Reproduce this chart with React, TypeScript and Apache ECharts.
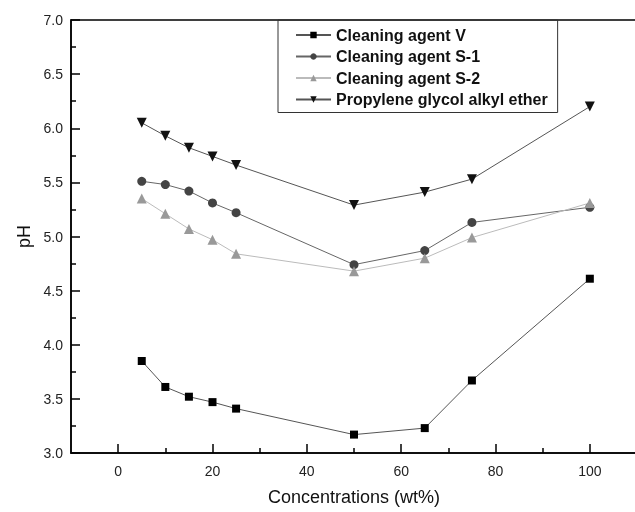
import React, { useEffect, useRef } from "react";
import * as echarts from "echarts";

const concentrations = [5, 10, 15, 20, 25, 50, 65, 75, 100];
const agentV = [3.85, 3.61, 3.52, 3.47, 3.41, 3.17, 3.23, 3.67, 4.61];
const agentS1 = [5.51, 5.48, 5.42, 5.31, 5.22, 4.74, 4.87, 5.13, 5.27];
const agentS2 = [5.35, 5.21, 5.07, 4.97, 4.84, 4.68, 4.8, 4.99, 5.31];
const pgae = [6.05, 5.93, 5.82, 5.74, 5.66, 5.29, 5.41, 5.53, 6.2];
const xMajorTicks = [0, 20, 40, 60, 80, 100];

const FONT = "Liberation Sans, Arial, sans-serif";

function pairs(vals: number[]) {
  return concentrations.map((c, i) => [c, vals[i]]);
}

export default function App() {
  const ref = useRef<HTMLDivElement>(null);
  useEffect(() => {
    if (!ref.current) return;
    const chart = echarts.init(ref.current, undefined, { renderer: "svg" });
    const mk = (
      name: string,
      vals: number[],
      symbol: string,
      size: number,
      color: string,
      lineColor: string,
      rotate = 0
    ) => ({
      name,
      type: "line",
      data: pairs(vals),
      symbol,
      symbolSize: size,
      symbolRotate: rotate,
      showAllSymbol: true,
      itemStyle: { color, borderWidth: 0 },
      lineStyle: { color: lineColor, width: 1 },
      emphasis: { disabled: true },
    });
    chart.setOption({
      animation: false,
      grid: {
        left: 71,
        top: 20,
        width: 566,
        height: 433,
        show: true,
        borderColor: "#000",
        borderWidth: 1.5,
        outerBoundsMode: "none",
        containLabel: false,
      },
      legend: {
        orient: "vertical",
        left: 278,
        top: 20,
        itemWidth: 35,
        itemHeight: 8,
        itemGap: 5.5,
        padding: [7, 10, 5, 17],
        borderColor: "#333",
        borderWidth: 1,
        textStyle: { fontSize: 16, fontWeight: "bold", color: "#111", fontFamily: FONT, lineHeight: 16 },
      },
      xAxis: [
        {
          type: "value",
          min: -10,
          max: 110,
          name: "Concentrations (wt%)",
          nameLocation: "middle",
          nameGap: 35,
          nameTextStyle: { fontSize: 18, color: "#111", fontFamily: FONT },
          axisLine: { show: true, onZero: false, lineStyle: { color: "#000", width: 1.5 } },
          axisTick: { show: true, inside: true, length: 9, customValues: xMajorTicks, lineStyle: { color: "#000", width: 1.5 } },
          minorTick: { show: true, splitNumber: 2, length: 5, lineStyle: { color: "#000", width: 1.5 } },
          axisLabel: { customValues: xMajorTicks, margin: 11, fontSize: 14, color: "#222", fontFamily: FONT },
          splitLine: { show: false },
        },
      ],
      yAxis: {
        type: "value",
        min: 3,
        max: 7,
        interval: 0.5,
        name: "pH",
        nameLocation: "middle",
        nameRotate: 90,
        nameGap: 34,
        nameTextStyle: { fontSize: 18, color: "#111", fontFamily: FONT },
        axisLine: { show: true, onZero: false, lineStyle: { color: "#000", width: 1.5 } },
        axisTick: { show: true, inside: true, length: 9, lineStyle: { color: "#000", width: 1.5 } },
        minorTick: { show: true, splitNumber: 2, length: 5, lineStyle: { color: "#000", width: 1.5 } },
        axisLabel: { margin: 8, fontSize: 14, color: "#222", fontFamily: FONT, formatter: (v: number) => v.toFixed(1) },
        splitLine: { show: false },
      },
      series: [
        mk("Cleaning agent V", agentV, "rect", 8, "#000", "#555"),
        mk("Cleaning agent S-1", agentS1, "circle", 9, "#444", "#666"),
        mk("Cleaning agent S-2", agentS2, "triangle", 10, "#999", "#bbb"),
        mk("Propylene glycol alkyl ether", pgae, "triangle", 10, "#111", "#555", 180),
      ],
    });
    return () => chart.dispose();
  }, []);
  return (
    <div
      ref={ref}
      style={{ position: "fixed", left: 0, top: 0, width: 635, height: 512, overflow: "hidden" }}
    />
  );
}
